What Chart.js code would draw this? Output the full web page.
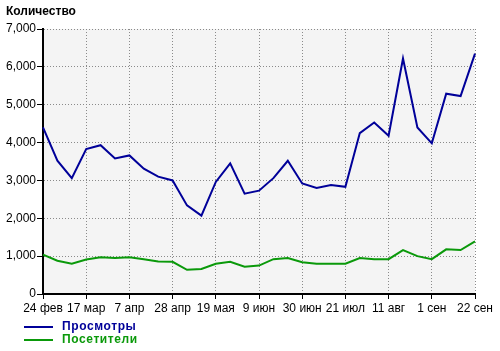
<!DOCTYPE html>
<html lang="ru">
<head>
    <meta charset="utf-8">
    <title>Количество</title>
    <script src="https://cdn.jsdelivr.net/npm/chart.js@4.4.1/dist/chart.umd.min.js"></script>
    <style>
        body { margin: 0; background: #fff; font-family: "Liberation Sans", Arial, sans-serif; }
        #wrap { position: relative; width: 500px; height: 351px; }
        #title { position: absolute; left: 6px; top: 4px; font-size: 12px; font-weight: bold; color: #000; }
        .leg { position: absolute; left: 24px; font-size: 12px; font-weight: bold; letter-spacing: 0.6px; }
        .leg span { display: inline-block; width: 29px; height: 2px; vertical-align: middle; margin-right: 9px; }
    </style>
</head>
<body>
<div id="wrap">
    <canvas id="chart" width="500" height="351"></canvas>
    <div id="title">Количество</div>
    <div class="leg" style="top: 319px; color: #000099;"><span style="background: #000099;"></span>Просмотры</div>
    <div class="leg" style="top: 332px; color: #0a990a;"><span style="background: #0a990a;"></span>Посетители</div>
</div>

<script>
    // weekly points, 24 Feb .. 22 Sep
    const weeks = ['24 фев', '3 мар', '10 мар', '17 мар', '24 мар', '31 мар', '7 апр', '14 апр', '21 апр',
        '28 апр', '5 мая', '12 мая', '19 мая', '26 мая', '2 июн', '9 июн', '16 июн', '23 июн', '30 июн',
        '7 июл', '14 июл', '21 июл', '28 июл', '4 авг', '11 авг', '18 авг', '25 авг', '1 сен', '8 сен',
        '15 сен', '22 сен'];
    const views = [4400, 3520, 3060, 3830, 3930, 3580, 3660, 3310, 3100, 3000, 2340, 2070, 2960, 3450,
        2650, 2730, 3060, 3520, 2920, 2800, 2880, 2830, 4250, 4530, 4180, 6220, 4400, 3980, 5290, 5230, 6350];
    const visitors = [1040, 880, 800, 910, 970, 950, 970, 920, 860, 850, 640, 660, 800, 850,
        720, 750, 920, 950, 840, 800, 800, 800, 950, 920, 920, 1160, 1000, 920, 1180, 1160, 1390];
    const yTicks = [0, 1000, 2000, 3000, 4000, 5000, 6000, 7000];

    const plotBg = {
        id: 'plotBg',
        beforeDraw(chart) {
            const a = chart.chartArea;
            chart.ctx.save();
            chart.ctx.fillStyle = '#f4f4f4';
            chart.ctx.fillRect(a.left, a.top, a.right - a.left, a.bottom - a.top);
            chart.ctx.restore();
        }
    };

    const every3 = (yes, no) => ctx => (ctx.index % 3 === 0 ? yes : no);

    new Chart(document.getElementById('chart').getContext('2d'), {
        type: 'line',
        data: {
            labels: weeks,
            datasets: [
                { label: 'Просмотры', data: views, borderColor: '#000099', borderWidth: 2, pointRadius: 0, tension: 0 },
                { label: 'Посетители', data: visitors, borderColor: '#0a990a', borderWidth: 2, pointRadius: 0, tension: 0 }
            ]
        },
        options: {
            responsive: false,
            animation: false,
            layout: { padding: { top: 29, right: 25, bottom: 0, left: 0 } },
            plugins: { legend: { display: false }, tooltip: { enabled: false } },
            scales: {
                x: {
                    offset: false,
                    afterFit: s => { s.height = 57; },
                    grid: {
                        color: every3('#8a8a8a', 'rgba(0,0,0,0)'),
                        tickColor: every3('#000', 'rgba(0,0,0,0)'),
                        tickBorderDash: [],
                        tickLength: 5
                    },
                    // in v4 border.dash is the dash of the grid lines
                    border: { display: true, color: '#000', width: 2, dash: [1, 2] },
                    ticks: {
                        autoSkip: false,
                        maxRotation: 0,
                        padding: 2,
                        color: '#000',
                        font: { family: 'Liberation Sans', size: 12 },
                        callback: function (v, i) { return i % 3 === 0 ? this.getLabelForValue(v) : ''; }
                    }
                },
                y: {
                    min: 0,
                    max: 7000,
                    afterFit: s => { s.width = 43; },
                    afterBuildTicks: s => { s.ticks = yTicks.map(v => ({ value: v })); },
                    grid: {
                        color: '#8a8a8a',
                        tickColor: '#000',
                        tickBorderDash: [],
                        tickLength: 6
                    },
                    border: { display: true, color: '#000', width: 2, dash: [1, 2] },
                    ticks: {
                        padding: 1,
                        color: '#000',
                        font: { family: 'Liberation Sans', size: 12 },
                        callback: v => v.toLocaleString('en-US')
                    }
                }
            }
        },
        plugins: [plotBg]
    });
</script>
</body>
</html>
